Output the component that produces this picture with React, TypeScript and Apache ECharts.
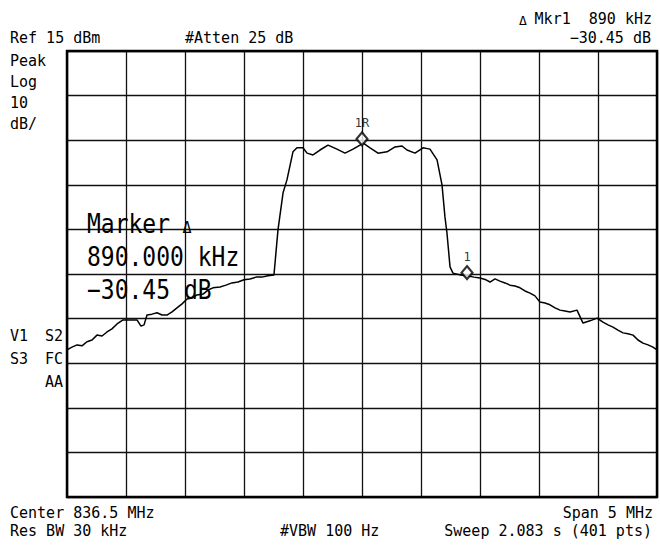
import React, { useEffect, useRef } from "react";
import * as echarts from "echarts";

// Spectrum trace: frequency (MHz) and level (dBm)
const freqMHz = [
  834.000, 834.042, 834.085, 834.127, 834.169, 834.212, 834.254, 834.297, 834.339, 834.381,
  834.424, 834.475, 834.534, 834.593, 834.627, 834.653, 834.678, 834.720, 834.763, 834.805,
  834.847, 834.890, 834.932, 834.975, 835.017, 835.059, 835.102, 835.153, 835.195, 835.237,
  835.297, 835.347, 835.398, 835.449, 835.500, 835.551, 835.602, 835.653, 835.703, 835.754,
  835.788, 835.831, 835.864, 835.915, 835.949, 836.000, 836.034, 836.085, 836.144, 836.212,
  836.288, 836.356, 836.424, 836.483, 836.508, 836.568, 836.636, 836.712, 836.780, 836.839,
  836.881, 836.949, 837.017, 837.076, 837.136, 837.178, 837.203, 837.220, 837.246, 837.271,
  837.331, 837.390, 837.449, 837.500, 837.551, 837.585, 837.627, 837.669, 837.712, 837.754,
  837.797, 837.839, 837.881, 837.924, 837.966, 838.008, 838.051, 838.093, 838.136, 838.178,
  838.220, 838.263, 838.322, 838.373, 838.432, 838.492, 838.542, 838.585, 838.627, 838.669,
  838.712, 838.754, 838.797, 838.839, 838.881, 838.924, 838.966, 839.000,
];
const levelDBm = [
  -52.0, -51.4, -50.9, -51.1, -50.2, -49.8, -48.7, -48.9, -48.0, -47.3,
  -46.2, -45.3, -45.3, -45.3, -46.7, -46.4, -44.2, -44.0, -43.7, -44.2,
  -44.2, -43.5, -42.6, -41.7, -40.6, -40.4, -39.7, -39.5, -38.6, -38.1,
  -37.9, -37.5, -37.0, -36.8, -36.3, -36.1, -35.7, -35.7, -35.4, -35.2,
  -25.1, -16.8, -13.9, -7.6, -6.7, -6.7, -7.9, -8.3, -7.2, -6.1,
  -7.0, -7.9, -7.0, -6.1, -5.6, -6.7, -7.9, -7.6, -6.5, -6.3,
  -7.2, -7.9, -6.7, -7.0, -9.4, -15.0, -22.2, -25.8, -33.4, -34.8,
  -35.2, -35.4, -35.7, -35.9, -36.3, -36.8, -36.1, -36.6, -37.0, -37.5,
  -37.7, -38.1, -38.8, -39.3, -39.9, -41.3, -41.5, -41.9, -42.6, -43.1,
  -43.3, -43.5, -43.1, -46.0, -45.5, -44.9, -45.8, -46.4, -46.9, -47.6,
  -48.2, -48.4, -48.7, -49.8, -50.5, -50.9, -51.4, -52.0,
];

// Markers
const markerNames = ["1R", "1"];
const markerFreq = [836.5, 837.39];
const markerLevel = [-5.6, -35.6];

// Scale settings
const REF_LEVEL = 15; // dBm
const DB_PER_DIV = 10;
const DIVS = 10;
const START_MHZ = 834;
const STOP_MHZ = 839;
const FREQ_DIV = 0.5;

const toDiv = (dbm: number) => (dbm - REF_LEVEL) / DB_PER_DIV + DIVS;

const MONO = "'DejaVu Sans Mono', 'Liberation Mono', monospace";

function txt(text: string, x: number, y: number, size: number, align: string = "left", sy: number = 1) {
  return {
    type: "text",
    silent: true,
    z: 50,
    x,
    y,
    scaleY: sy,
    style: {
      text,
      x: 0,
      y: 0,
      font: `${size}px ${MONO}`,
      fill: "#000",
      textAlign: align,
      textVerticalAlign: "middle",
    },
  };
}

export default function App() {
  const ref = useRef<HTMLDivElement>(null);
  useEffect(() => {
    if (!ref.current) return;
    const chart = echarts.init(ref.current, undefined, { renderer: "svg" });
    const trace = freqMHz.map((f, i) => [f, toDiv(levelDBm[i])]);
    const markers = markerFreq.map((f, i) => ({
      value: [f, toDiv(markerLevel[i])],
      name: markerNames[i],
    }));
    chart.setOption({
      animation: false,
      backgroundColor: "#fff",
      grid: {
        left: 67,
        top: 51,
        width: 590,
        height: 446,
        show: true,
        borderColor: "#000",
        borderWidth: 2.5,
        backgroundColor: "transparent",
        z: 3,
      },
      xAxis: {
        type: "value",
        min: START_MHZ,
        max: STOP_MHZ,
        interval: FREQ_DIV,
        axisLine: { show: false },
        axisTick: { show: false },
        axisLabel: { show: false },
        splitLine: { show: true, lineStyle: { color: "#111", width: 1.3 } },
      },
      yAxis: {
        type: "value",
        min: 0,
        max: DIVS,
        interval: 1,
        axisLine: { show: false },
        axisTick: { show: false },
        axisLabel: { show: false },
        splitLine: { show: true, lineStyle: { color: "#111", width: 1.3 } },
      },
      series: [
        {
          type: "line",
          data: trace,
          showSymbol: false,
          lineStyle: { color: "#000", width: 1.5 },
          z: 5,
        },
        {
          type: "scatter",
          data: markers,
          symbol: "diamond",
          symbolSize: [11, 13],
          symbolOffset: [0, -4],
          itemStyle: { color: "#fff", borderColor: "#000", borderWidth: 2.2 },
          label: {
            show: true,
            position: "top",
            distance: 2,
            formatter: (p: any) => p.name,
            fontFamily: MONO,
            fontSize: 12,
            color: "#000",
          },
          z: 10,
        },
      ],
      graphic: [
        txt("Ref 15 dBm", 10, 38, 15),
        txt("#Atten 25 dB", 185, 38, 15),
        txt("Δ", 523, 20, 13, "center"),
        txt("Mkr1  890 kHz", 652, 19, 15, "right"),
        txt("−30.45 dB", 651, 38, 15, "right"),
        txt("Peak", 10, 61, 15),
        txt("Log", 10, 82, 15),
        txt("10", 10, 103, 15),
        txt("dB/", 10, 124, 15),
        txt("V1", 10, 336, 15),
        txt("S2", 63, 336, 15, "right"),
        txt("S3", 10, 359, 15),
        txt("FC", 63, 359, 15, "right"),
        txt("AA", 63, 382, 15, "right"),
        txt("Marker", 87, 224, 23, "left", 1.12),
        txt("Δ", 187, 228, 15, "center"),
        txt("890.000 kHz", 87, 257, 23, "left", 1.12),
        txt("−30.45 dB", 87, 290, 23, "left", 1.12),
        txt("Center 836.5 MHz", 10, 513, 15),
        txt("Span 5 MHz", 653, 513, 15, "right"),
        txt("Res BW 30 kHz", 10, 531, 15),
        txt("#VBW 100 Hz", 280, 531, 15),
        txt("Sweep 2.083 s (401 pts)", 652, 531, 15, "right"),
      ],
    });
    return () => chart.dispose();
  }, []);
  return (
    <div
      ref={ref}
      style={{ position: "fixed", left: 0, top: 0, width: 660, height: 555, background: "#fff" }}
    />
  );
}
